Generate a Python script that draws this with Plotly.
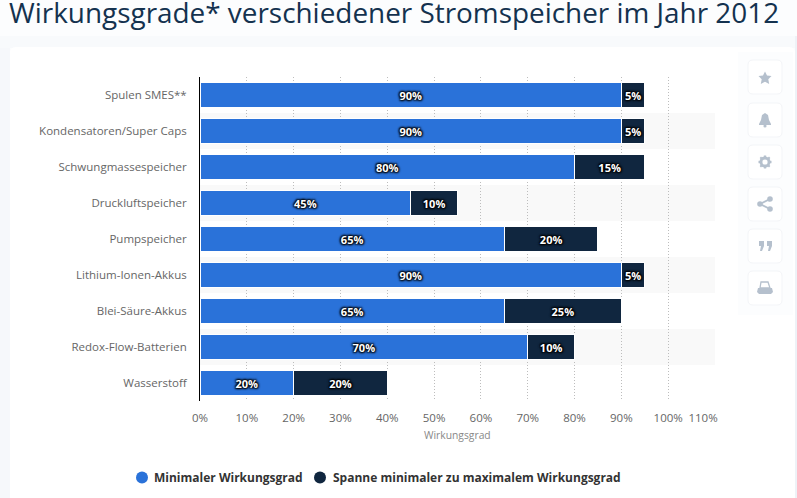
import plotly.graph_objects as go

categories = ["Spulen SMES**", "Kondensatoren/Super Caps", "Schwungmassespeicher", "Druckluftspeicher",
              "Pumpspeicher", "Lithium-Ionen-Akkus", "Blei-Säure-Akkus", "Redox-Flow-Batterien", "Wasserstoff"]
minimum = [90, 90, 80, 45, 65, 90, 65, 70, 20]
spanne = [5, 5, 15, 10, 20, 5, 25, 10, 20]
tick_values = [0, 10, 20, 30, 40, 50, 60, 70, 80, 90, 100, 110]
tick_labels = ["0%", "10%", "20%", "30%", "40%", "50%", "60%", "70%", "80%", "90%", "100%",
               "110%" + "\u00a0" * 8]
name_min = "Minimaler Wirkungsgrad"
name_span = "Spanne minimaler zu maximalem Wirkungsgrad"
BLUE = "#2a72d9"
NAVY = "#10263f"
W, H = 797, 498
L, R, T, B = 200, 715, 77, 401
FONT = "Open Sans"

def px(x): return (x - L) / (R - L)
def py(y): return (B - y) / (B - T)

def rrect(x0, y0, x1, y1, r):
    a, b, c, d = px(x0), px(x1), py(y0), py(y1)
    rx, ry = r / (R - L), r / (B - T)
    return (f"M{a+rx},{c} L{b-rx},{c} Q{b},{c} {b},{c-ry} L{b},{d+ry} Q{b},{d} {b-rx},{d} "
            f"L{a+rx},{d} Q{a},{d} {a},{d+ry} L{a},{c-ry} Q{a},{c} {a+rx},{c} Z")

def poly(points):
    return "M" + " L".join(f"{px(x)},{py(y)}" for x, y in points) + " Z"

def bar_text(vals):
    return [f"{v}%" for v in vals]

fig = go.Figure()
shadow = "1px 1px 2px #000, -1px -1px 2px #000, 1px -1px 2px #000, -1px 1px 2px #000"
for vals, col, nm in ((minimum, BLUE, name_min), (spanne, NAVY, name_span)):
    fig.add_trace(go.Bar(y=categories, x=vals, orientation="h", name=nm, showlegend=False,
                         marker=dict(color=col, line=dict(color="white", width=1)),
                         text=bar_text(vals), textposition="inside", insidetextanchor="middle",
                         constraintext="none", cliponaxis=False,
                         textfont=dict(family=FONT, size=11, color="white", weight="bold", shadow=shadow)))

shapes = []
annotations = []
PAGE = "#fcfdfe"

def prect(x0, y0, x1, y1, color):
    shapes.append(dict(type="rect", xref="paper", yref="paper", x0=px(x0), x1=px(x1), y0=py(y1), y1=py(y0),
                       fillcolor=color, line=dict(width=0), layer="below"))

prect(0, 36, 10, 498, "#f6f8fb")
prect(0, 36, 797, 48, "#f8fafc")
prect(795, 36, 797, 498, "#eef2f7")
shapes.append(dict(type="path", xref="paper", yref="paper", path=rrect(10, 47, 795, 520, 6),
                   fillcolor="white", line=dict(width=0), layer="below"))
prect(738, 52, 793, 315, "#fcfdfe")

for i, c in enumerate(categories):
    if i % 2 == 1:
        shapes.append(dict(type="rect", xref="x", yref="y", x0=0, x1=110, y0=i - 0.5, y1=i + 0.5,
                           fillcolor="#f9f9f9", line=dict(width=0), layer="below"))
ICON = "#b5c0cd"
button_tops = [60, 103, 145, 187, 229, 271]
for t in button_tops:
    shapes.append(dict(type="path", xref="paper", yref="paper", path=rrect(748, t, 782, t + 34, 5),
                       fillcolor="white", line=dict(color="#f3f5f8", width=1), layer="below"))

def icon(path=None, circle=None, fill=ICON, line=None):
    if path:
        shapes.append(dict(type="path", xref="paper", yref="paper", path=path, fillcolor=fill,
                           line=dict(width=0) if line is None else line))
    if circle:
        x, y, r = circle
        shapes.append(dict(type="circle", xref="paper", yref="paper", x0=px(x - r), x1=px(x + r),
                           y0=py(y + r), y1=py(y - r), fillcolor=fill,
                           line=dict(width=0) if line is None else line))

# star
icon(poly([(765, 71.5), (767, 75.5), (771.5, 76), (768.3, 79.2), (769.2, 84), (765, 81.7),
           (760.8, 84), (761.7, 79.2), (758.5, 76), (763, 75.5)]))
# bell
icon(poly([(765, 113), (768, 115), (769, 120), (771, 124), (771, 125), (759, 125), (759, 124), (761, 120), (762, 115)]))
icon(circle=(765, 126, 1.6))
# gear
icon(circle=(765, 162, 4.2), fill="white", line=dict(color=ICON, width=2.6))
for a, b, c, d in ((763.8, 155.5, 766.2, 168.5), (758.5, 160.8, 771.5, 163.2)):
    icon(poly([(a, b), (c, b), (c, d), (a, d)]))
icon(poly([(759.6, 158), (761, 156.6), (770.4, 166), (769, 167.4)]))
icon(poly([(770.4, 158), (769, 156.6), (759.6, 166), (761, 167.4)]))
icon(circle=(765, 162, 2.6), fill="white")
# share
icon(circle=(760, 204, 2.8))
icon(circle=(770, 199, 2.8))
icon(circle=(770, 209, 2.8))
icon(poly([(760, 203), (770, 198), (770, 200), (760, 205)]))
icon(poly([(760, 203), (770, 208), (770, 210), (760, 205)]))
# quotes
icon(poly([(759, 241), (764, 241), (764, 246), (762, 251), (760, 251), (761, 246), (759, 246)]))
icon(poly([(767, 241), (772, 241), (772, 246), (770, 251), (768, 251), (769, 246), (767, 246)]))
# printer
icon(poly([(761, 282), (768, 282), (770, 288), (760, 288)]), fill="white", line=dict(color=ICON, width=1.3))
icon(poly([(758, 288), (772, 288), (773, 292), (771, 294), (759, 294), (757, 292)]), fill=ICON)

# legend row
for cx, col, tx, nm in ((142, BLUE, 155, name_min), (320, NAVY, 334, name_span)):
    icon(circle=(cx, 477.5, 6), fill=col)
    annotations.append(dict(xref="paper", yref="paper", x=px(tx), y=py(477.5), xanchor="left", yanchor="middle",
                            text=nm, showarrow=False, xshift=-3,
                            font=dict(family=FONT, size=12, color="#333333", weight="bold")))
# axis title
annotations.append(dict(xref="x", yref="paper", x=55, y=py(435), xanchor="center", yanchor="middle",
                        text="Wirkungsgrad", showarrow=False, font=dict(size=10.3, color="#888888")))

fig.update_layout(
    width=W, height=H, autosize=False,
    margin=dict(l=L, r=W - R, t=T, b=H - B, pad=0),
    paper_bgcolor=PAGE, plot_bgcolor="rgba(0,0,0,0)",
    barmode="stack", bargap=0.28,
    shapes=shapes, annotations=annotations,
    font=dict(family=FONT, size=11, color="#666666"),
    xaxis=dict(range=[0, 110], tickvals=tick_values, ticktext=tick_labels, automargin=False,
               showgrid=True, gridcolor="#bdbdbd", griddash="1px,2px", gridwidth=1, zeroline=False,
               ticks="", showline=False, tickfont=dict(size=11.5, color="#666666"), ticklabelstandoff=8),
    yaxis=dict(autorange="reversed", showline=True, linecolor="#000000", linewidth=1, ticks="", automargin=False,
               showgrid=False, zeroline=False, tickfont=dict(size=11.5, color="#666666"), ticklabelstandoff=10),
    title=dict(text="Wirkungsgrade* verschiedener Stromspeicher im Jahr 2012", x=9 / W, xanchor="left",
               y=1 - 13.5 / H, yanchor="middle", font=dict(family=FONT, size=27.9, color="#14324f")),
    showlegend=False,
)
fig.write_html("out.html", config=dict(displayModeBar=False),
               post_script="document.body.style.margin='0';document.documentElement.style.overflow='hidden';")
